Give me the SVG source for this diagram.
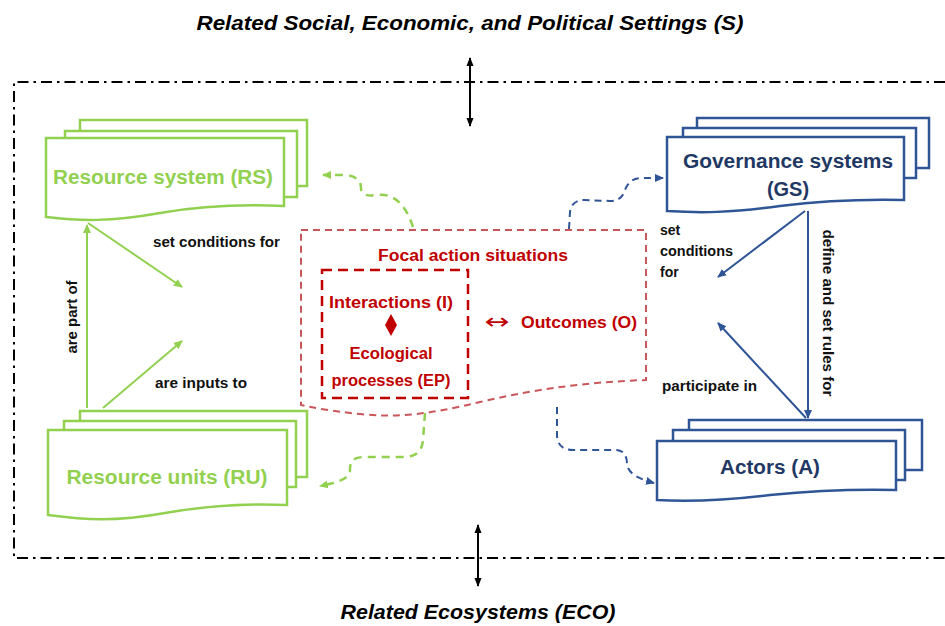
<svg xmlns="http://www.w3.org/2000/svg" width="945" height="626" viewBox="0 0 945 626">
<defs>
<marker id="ag" markerWidth="10" markerHeight="10" refX="8" refY="5" orient="auto" markerUnits="userSpaceOnUse"><path d="M0,1 L9,5 L0,9 Z" fill="#92D050"/></marker>
<marker id="ab" markerWidth="10" markerHeight="10" refX="8" refY="5" orient="auto" markerUnits="userSpaceOnUse"><path d="M0,1 L9,5 L0,9 Z" fill="#2F5597"/></marker>
<marker id="ak" markerWidth="10" markerHeight="10" refX="8" refY="5" orient="auto-start-reverse" markerUnits="userSpaceOnUse"><path d="M0,1.5 L9,5 L0,8.5 Z" fill="#000"/></marker>
</defs>
<style>
.t{font-family:"Liberation Sans",Arial,sans-serif;font-weight:bold}
.title{font-style:italic;font-size:21px;fill:#000}
.lab{font-size:14px;fill:#111}
.g{fill:#92D050;font-size:20px}
.b{fill:#1F3864;font-size:20px}
.r{fill:#C00000;font-size:16px}
.gbox{fill:#fff;stroke:#92D050;stroke-width:2.5}
.bbox{fill:#fff;stroke:#2F5597;stroke-width:2.5}
.gl{stroke:#92D050;stroke-width:2;fill:none}
.bl{stroke:#2F5597;stroke-width:2;fill:none}
.gd{stroke:#92D050;stroke-width:2.5;fill:none;stroke-dasharray:8,6}
.bd{stroke:#2F5597;stroke-width:2;fill:none;stroke-dasharray:7,5}
</style>

<g id="frame">
<path d="M945,82 L14,82 L14,558 L945,558" fill="none" stroke="#000" stroke-width="2" stroke-dasharray="11,5,2.5,5"/>
</g>

<g id="settings">
<text class="t title" x="470" y="30" text-anchor="middle" textLength="547" lengthAdjust="spacingAndGlyphs">Related Social, Economic, and Political Settings (S)</text>
</g>
<g id="ecosystems">
<text class="t title" x="478" y="619" text-anchor="middle" textLength="275" lengthAdjust="spacingAndGlyphs">Related Ecosystems (ECO)</text>
</g>

<g id="RS">
<rect class="gbox" x="80" y="120" width="227" height="66"/>
<rect class="gbox" x="65" y="131" width="232" height="66"/>
<path class="gbox" d="M46,138 L284,138 L284,206 C240,204 200,206 160,213 C110,222 80,221 46,217 Z"/>
<text class="t g" x="163" y="184" text-anchor="middle" textLength="220" lengthAdjust="spacingAndGlyphs">Resource system (RS)</text>
</g>

<g id="RU">
<rect class="gbox" x="80" y="411" width="227" height="66"/>
<rect class="gbox" x="64" y="421" width="232" height="66"/>
<path class="gbox" d="M48,430 L287,430 L287,505 C245,503 205,506 165,513 C115,522 85,520 48,515 Z"/>
<text class="t g" x="167" y="484" text-anchor="middle" textLength="201" lengthAdjust="spacingAndGlyphs">Resource units (RU)</text>
</g>

<g id="GS">
<rect class="bbox" x="697" y="118" width="232" height="50"/>
<rect class="bbox" x="683" y="128" width="233" height="50"/>
<path class="bbox" d="M667,137 L904,137 L904,200 C860,199 820,201 780,206 C730,213 700,213 667,211 Z"/>
<text class="t b" x="788" y="168" text-anchor="middle" textLength="210" lengthAdjust="spacingAndGlyphs">Governance systems</text>
<text class="t b" x="788" y="196" text-anchor="middle">(GS)</text>
</g>

<g id="A">
<rect class="bbox" x="689" y="420" width="233" height="50"/>
<rect class="bbox" x="673" y="430" width="232" height="50"/>
<path class="bbox" d="M657,441 L896,441 L896,490 C850,489 810,491 770,495 C720,501 690,502 657,500 Z"/>
<text class="t b" x="770" y="474" text-anchor="middle" textLength="100" lengthAdjust="spacingAndGlyphs">Actors (A)</text>
</g>

<g id="FAS">
<path d="M301,230 L646,230 L646,380 C590,382 540,388 480,402 C430,414 400,418 360,414 C330,411 315,408 301,405 Z" fill="#fff" stroke="#C9565A" stroke-width="2" stroke-dasharray="7,5"/>
<text class="t r" x="473" y="261" text-anchor="middle" textLength="190" lengthAdjust="spacingAndGlyphs">Focal action situations</text>
<rect x="322" y="270" width="146" height="128" fill="none" stroke="#C00000" stroke-width="2.5" stroke-dasharray="10,6"/>
<text class="t r" x="391" y="308" text-anchor="middle" textLength="124" lengthAdjust="spacingAndGlyphs">Interactions (I)</text>
<path d="M391,314 L397,325 L391,336 L385,325 Z" fill="#C00000"/>
<text class="t r" x="391" y="359" text-anchor="middle" textLength="83" lengthAdjust="spacingAndGlyphs">Ecological</text>
<text class="t r" x="391" y="386" text-anchor="middle" textLength="119" lengthAdjust="spacingAndGlyphs">processes (EP)</text>
<text x="497" y="329" text-anchor="middle" style="font-family:'DejaVu Sans',sans-serif;font-size:22px;fill:#C00000" textLength="25" lengthAdjust="spacingAndGlyphs">↔</text>
<text class="t r" x="579" y="328" text-anchor="middle" textLength="116" lengthAdjust="spacingAndGlyphs">Outcomes (O)</text>
</g>

<g id="connectors">
<line x1="470" y1="58" x2="470" y2="126" stroke="#000" stroke-width="2" marker-start="url(#ak)" marker-end="url(#ak)"/>
<line x1="478" y1="525" x2="478" y2="586" stroke="#000" stroke-width="2" marker-start="url(#ak)" marker-end="url(#ak)"/>

<line class="gl" x1="87" y1="408" x2="87" y2="225" marker-end="url(#ag)"/>
<line class="gl" x1="88" y1="223" x2="182" y2="287" marker-end="url(#ag)"/>
<line class="gl" x1="103" y1="408" x2="182" y2="341" marker-end="url(#ag)"/>

<line class="bl" x1="805" y1="211" x2="718" y2="277" marker-end="url(#ab)"/>
<line class="bl" x1="808" y1="211" x2="808" y2="418" marker-end="url(#ab)"/>
<line class="bl" x1="806" y1="418" x2="718" y2="323" marker-end="url(#ab)"/>

<path class="gd" d="M413,227 C406,205 394,193 378,195 C368,196 361,196 361,188 C361,180 355,175 343,175 L323,175" marker-end="url(#ag)"/>
<path class="gd" d="M425,413 L423,440 C422,452 415,457 405,457 L365,457 C352,457 350,462 350,470 C350,478 340,482 320,486" marker-end="url(#ag)"/>
<path class="bd" d="M569,229 L570,212 C571,204 576,200 584,200 L610,201 C620,201 623,196 625,190 C628,182 633,178 642,178 L663,178" marker-end="url(#ab)"/>
<path class="bd" d="M557,407 L557,435 C557,445 563,450 573,450 L615,450 C624,450 627,456 627,464 C628,472 635,478 654,483" marker-end="url(#ab)"/>
</g>

<g id="labels">
<text class="t lab" x="153" y="247" textLength="127" lengthAdjust="spacingAndGlyphs">set conditions for</text>
<text class="t lab" x="155" y="388" textLength="92" lengthAdjust="spacingAndGlyphs">are inputs to</text>
<text class="t lab" transform="translate(77,317) rotate(-90)" text-anchor="middle" textLength="73" lengthAdjust="spacingAndGlyphs">are part of</text>
<text class="t lab" x="660" y="235">set</text>
<text class="t lab" x="660" y="256" textLength="73" lengthAdjust="spacingAndGlyphs">conditions</text>
<text class="t lab" x="660" y="277">for</text>
<text class="t lab" x="662" y="391" textLength="95" lengthAdjust="spacingAndGlyphs">participate in</text>
<text class="t lab" transform="translate(823,313) rotate(90)" text-anchor="middle" textLength="167" lengthAdjust="spacingAndGlyphs">define and set rules for</text>
</g>
</svg>
